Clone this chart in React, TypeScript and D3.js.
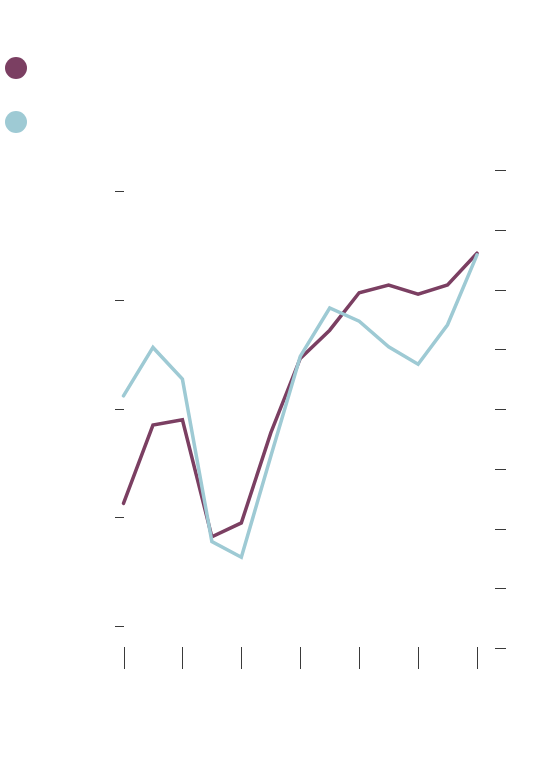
import React from "react";
import * as d3 from "d3";

const categories = ["0", "1", "2", "3", "4", "5", "6", "7", "8", "9", "10", "11", "12"];
const xTickIdx = [0, 2, 4, 6, 8, 10, 12];
const seriesA = [28.2, 46.2, 47.4, 20.5, 23.7, 44.4, 61.5, 68.0, 76.6, 78.4, 76.3, 78.4, 85.7];
const seriesB = [4.22, 5.03, 4.5, 1.78, 1.52, 3.21, 4.88, 5.69, 5.47, 5.04, 4.75, 5.41, 6.58];
const leftTicks = [0, 25, 50, 75, 100];
const rightTicks = [0, 1, 2, 3, 4, 5, 6, 7, 8];
const colors = ["#7b3f62", "#9ecad4"];

export default function App() {
  const W = 560, H = 774;
  const x = d3.scalePoint<string>().domain(categories).range([123.5, 477]);
  const yL = d3.scaleLinear().domain([0, 100]).range([626, 191]);
  const yR = d3.scaleLinear().domain([0, 8]).range([648, 170]);
  const lineA = d3.line<number>().x((_, i) => x(categories[i])!).y((d) => yL(d));
  const lineB = d3.line<number>().x((_, i) => x(categories[i])!).y((d) => yR(d));
  const tickColor = "#3a3a3a";
  return (
    <svg width={W} height={H} style={{ position: "absolute", left: 0, top: 0 }}>
      <rect width={W} height={H} fill="#fff" />
      <circle cx={16} cy={68} r={11} fill={colors[0]} />
      <circle cx={16} cy={122} r={11} fill={colors[1]} />
      {leftTicks.map((t) => (
        <line key={"l" + t} x1={115} x2={124} y1={Math.round(yL(t)) + 0.5} y2={Math.round(yL(t)) + 0.5} stroke={tickColor} strokeWidth={1} />
      ))}
      {rightTicks.map((t) => (
        <line key={"r" + t} x1={495} x2={506} y1={Math.round(yR(t)) + 0.5} y2={Math.round(yR(t)) + 0.5} stroke={tickColor} strokeWidth={1} />
      ))}
      {xTickIdx.map((i) => (
        <line key={"x" + i} x1={Math.round(x(categories[i])!) + 0.5} x2={Math.round(x(categories[i])!) + 0.5} y1={647} y2={669} stroke={tickColor} strokeWidth={1} />
      ))}
      <path d={lineA(seriesA)!} fill="none" stroke={colors[0]} strokeWidth={3.5} strokeLinejoin="miter" strokeLinecap="round" />
      <path d={lineB(seriesB)!} fill="none" stroke={colors[1]} strokeWidth={3.5} strokeLinejoin="miter" strokeLinecap="round" />
    </svg>
  );
}
